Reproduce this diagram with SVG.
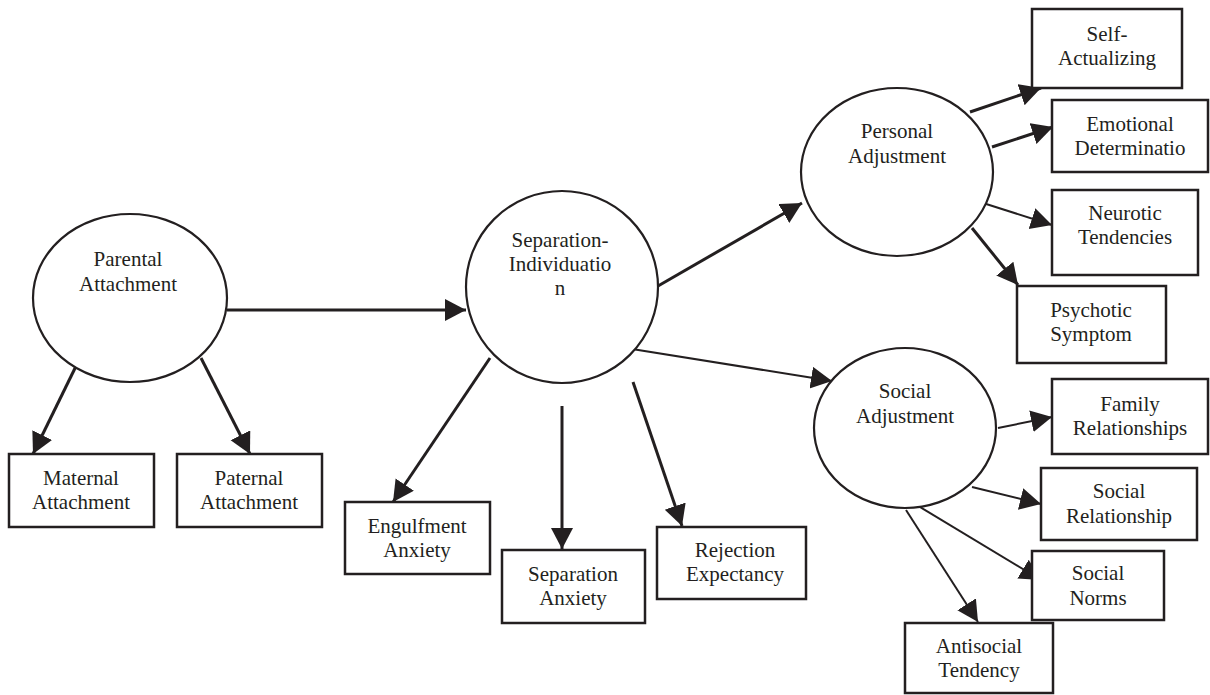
<svg xmlns="http://www.w3.org/2000/svg" width="1210" height="695" viewBox="0 0 1210 695">
<style>
.ell{fill:#fff;stroke:#231f20;stroke-width:2.2}
.box{fill:#fff;stroke:#231f20;stroke-width:2.5}
.t{font-family:"Liberation Serif","Times New Roman",serif;font-size:21px;fill:#231f20;text-anchor:middle}
.c{stroke:#231f20;stroke-width:3;fill:none;marker-end:url(#ah)}
.c2{stroke:#231f20;stroke-width:2;fill:none;marker-end:url(#ah)}
</style>
<defs>
<marker id="ah" markerUnits="userSpaceOnUse" markerWidth="24" markerHeight="24" refX="21" refY="11" orient="auto" viewBox="0 0 24 24">
<path d="M0,0 L21,11 L0,22 z" fill="#231f20"/>
</marker>
</defs>
<rect width="1210" height="695" fill="#fff"/>
<g id="connectors">
<line class="c" x1="80" y1="358" x2="33" y2="454"/>
<line class="c" x1="201" y1="358" x2="250" y2="454"/>
<line class="c" x1="227" y1="310" x2="466" y2="310"/>
<line class="c" x1="490" y1="358" x2="393" y2="502"/>
<line class="c" x1="562" y1="406" x2="562" y2="549"/>
<line class="c" x1="633" y1="382" x2="682" y2="526"/>
<line class="c" x1="658" y1="286" x2="802" y2="203"/>
<line class="c2" x1="632" y1="349" x2="832" y2="381"/>
<line class="c" x1="970" y1="112" x2="1041" y2="88"/>
<line class="c" x1="992" y1="147" x2="1053" y2="127"/>
<line class="c2" x1="983" y1="203" x2="1052" y2="225"/>
<line class="c" x1="972" y1="228" x2="1018" y2="285"/>
<line class="c2" x1="998" y1="428" x2="1052" y2="417"/>
<line class="c2" x1="972" y1="487" x2="1041" y2="504"/>
<line class="c2" x1="915" y1="504" x2="1041" y2="580"/>
<line class="c2" x1="906" y1="510" x2="978" y2="622"/>
</g>
<g id="parental">
<ellipse class="ell" cx="130" cy="298" rx="97" ry="84"/>
<text class="t" x="128" y="266">Parental</text>
<text class="t" x="128" y="291">Attachment</text>
</g>
<g id="maternal">
<rect class="box" x="9" y="454" width="145" height="73"/>
<text class="t" x="81" y="485">Maternal</text>
<text class="t" x="81" y="509">Attachment</text>
</g>
<g id="paternal">
<rect class="box" x="177" y="454" width="145" height="73"/>
<text class="t" x="249" y="485">Paternal</text>
<text class="t" x="249" y="509">Attachment</text>
</g>
<g id="separation">
<ellipse class="ell" cx="562" cy="287" rx="96" ry="96"/>
<text class="t" x="560" y="247">Separation-</text>
<text class="t" x="560" y="271">Individuatio</text>
<text class="t" x="560" y="295">n</text>
</g>
<g id="engulfment">
<rect class="box" x="345" y="502" width="145" height="72"/>
<text class="t" x="417" y="533">Engulfment</text>
<text class="t" x="417" y="557">Anxiety</text>
</g>
<g id="separation-anxiety">
<rect class="box" x="502" y="550" width="143" height="73"/>
<text class="t" x="573" y="581">Separation</text>
<text class="t" x="573" y="605">Anxiety</text>
</g>
<g id="rejection">
<rect class="box" x="657" y="527" width="149" height="72"/>
<text class="t" x="735" y="557">Rejection</text>
<text class="t" x="735" y="581">Expectancy</text>
</g>
<g id="personal">
<ellipse class="ell" cx="897" cy="172" rx="96" ry="84"/>
<text class="t" x="897" y="138">Personal</text>
<text class="t" x="897" y="163">Adjustment</text>
</g>
<g id="self-actualizing">
<rect class="box" x="1032" y="9" width="150" height="79"/>
<text class="t" x="1107" y="41">Self-</text>
<text class="t" x="1107" y="65">Actualizing</text>
</g>
<g id="emotional">
<rect class="box" x="1052" y="100" width="156" height="72"/>
<text class="t" x="1130" y="131">Emotional</text>
<text class="t" x="1130" y="155">Determinatio</text>
</g>
<g id="neurotic">
<rect class="box" x="1052" y="190" width="146" height="85"/>
<text class="t" x="1125" y="220">Neurotic</text>
<text class="t" x="1125" y="244">Tendencies</text>
</g>
<g id="psychotic">
<rect class="box" x="1017" y="286" width="149" height="77"/>
<text class="t" x="1091" y="317">Psychotic</text>
<text class="t" x="1091" y="341">Symptom</text>
</g>
<g id="social">
<ellipse class="ell" cx="905" cy="428" rx="91" ry="80"/>
<text class="t" x="905" y="398">Social</text>
<text class="t" x="905" y="423">Adjustment</text>
</g>
<g id="family">
<rect class="box" x="1052" y="379" width="156" height="75"/>
<text class="t" x="1130" y="411">Family</text>
<text class="t" x="1130" y="435">Relationships</text>
</g>
<g id="social-relationship">
<rect class="box" x="1041" y="468" width="156" height="72"/>
<text class="t" x="1119" y="498">Social</text>
<text class="t" x="1119" y="523">Relationship</text>
</g>
<g id="social-norms">
<rect class="box" x="1032" y="551" width="132" height="69"/>
<text class="t" x="1098" y="580">Social</text>
<text class="t" x="1098" y="605">Norms</text>
</g>
<g id="antisocial">
<rect class="box" x="905" y="623" width="148" height="70"/>
<text class="t" x="979" y="653">Antisocial</text>
<text class="t" x="979" y="677">Tendency</text>
</g>
</svg>
